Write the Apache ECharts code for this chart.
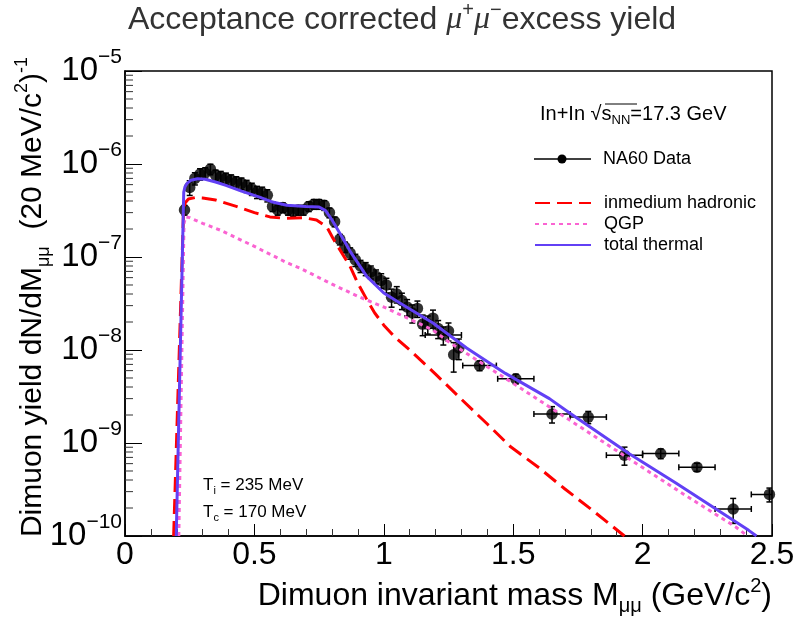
<!DOCTYPE html>
<html><head><meta charset="utf-8">
<script src="https://cdn.jsdelivr.net/npm/echarts@6/dist/echarts.min.js"></script>
<style>html,body{margin:0;padding:0;background:#fff}#c{width:796px;height:618px}</style>
</head><body><div id="c"></div>
<script>
const FONT = '"Liberation Sans", Helvetica, Arial, sans-serif';

// ---- NA60 data ----
const dataX = [0.23,0.25,0.27,0.29,0.31,0.33,0.35,0.37,0.39,0.41,0.43,0.45,0.47,0.49,0.51,0.53,0.55,0.57,0.59,0.61,
  0.63,0.65,0.67,0.69,0.71,0.73,0.75,0.77,0.79,0.81,0.83,0.85,0.87,0.89,0.91,0.93,0.95,0.97,0.99,1.01,
  1.03,1.05,1.07,1.09,1.11,1.13,1.15,1.17,1.19,1.21,1.23,1.25,1.27,1.29,
  1.37,1.51,1.65,1.79,1.93,2.07,2.21,2.35,2.49];
const dataY = [3.2e-7,5.6e-7,7.0e-7,7.8e-7,8.0e-7,8.8e-7,7.6e-7,7.3e-7,7.0e-7,6.7e-7,6.4e-7,6.2e-7,5.8e-7,5.4e-7,5.0e-7,4.9e-7,4.6e-7,3.5e-7,3.2e-7,3.4e-7,
  3.2e-7,3.1e-7,3.2e-7,3.2e-7,3.5e-7,3.7e-7,3.7e-7,3.6e-7,3.0e-7,2.4e-7,1.55e-7,1.28e-7,1.1e-7,9.3e-8,8.0e-8,7.5e-8,6.9e-8,6.2e-8,5.6e-8,5.0e-8,
  3.7e-8,4.0e-8,3.4e-8,2.9e-8,2.5e-8,2.8e-8,1.9e-8,1.9e-8,2.2e-8,1.7e-8,1.45e-8,1.6e-8,8.9e-9,1.05e-8,
  6.8e-9,4.9e-9,2.05e-9,1.9e-9,7.4e-10,7.7e-10,5.5e-10,1.95e-10,2.8e-10];
const dataErrRel = [0.12,0.18,0.15,0.14,0.14,0.13,0.13,0.14,0.14,0.14,0.14,0.14,0.15,0.15,0.15,0.15,0.15,0.12,0.12,0.12,
  0.12,0.12,0.12,0.12,0.12,0.12,0.12,0.12,0.12,0.12,0.13,0.13,0.14,0.15,0.15,0.16,0.16,0.17,0.18,0.18,
  0.22,0.2,0.2,0.2,0.22,0.2,0.25,0.22,0.22,0.22,0.22,0.22,0.35,0.25,
  0.12,0.12,0.2,0.15,0.22,0.12,0.1,0.3,0.17];
const dataXErr = [0,0,0,0,0,0,0,0,0,0,0,0,0,0,0,0,0,0,0,0,
  0,0,0,0,0,0,0,0,0,0,0,0,0,0,0,0,0,0,0,0,
  0,0,0,0,0,0,0,0,0,0,0.07,0,0,0,
  0.065,0.07,0.07,0.07,0.07,0.07,0.07,0.07,0.07];

// ---- model curves ----
const hadX = [0.188,0.226,0.232,0.245,0.27,0.30,0.35,0.43,0.50,0.56,0.62,0.69,0.74,0.78,0.803,0.83,0.869,0.90,0.934,0.965,1.00,1.04,1.10,1.20,1.30,1.40,1.49,1.52,1.60,1.70,1.80,1.93];
const hadY = [1e-10,3.0e-7,3.8e-7,4.2e-7,4.35e-7,4.3e-7,4.1e-7,3.5e-7,3.0e-7,2.7e-7,2.6e-7,2.65e-7,2.5e-7,2.1e-7,1.6e-7,1.2e-7,8e-8,5.2e-8,3.5e-8,2.5e-8,1.85e-8,1.4e-8,1e-8,5.5e-9,2.95e-9,1.6e-9,9.1e-10,7.9e-10,5.4e-10,3.2e-10,1.95e-10,1e-10];
const qgpX = [0.208,0.228,0.235,0.25,0.30,0.367,0.50,0.625,0.676,0.80,0.907,1.00,1.19,1.255,1.51,1.77,2.03,2.16,2.36,2.405];
const qgpY = [1e-10,2.3e-7,2.7e-7,2.65e-7,2.3e-7,1.95e-7,1.3e-7,8.7e-8,7.6e-8,5.1e-8,3.7e-8,2.9e-8,1.64e-8,1.2e-8,4.2e-9,1.42e-9,4.8e-10,2.8e-10,1.25e-10,1e-10];
const totX = [0.198,0.227,0.232,0.24,0.255,0.28,0.31,0.35,0.39,0.45,0.52,0.57,0.625,0.70,0.75,0.775,0.80,0.83,0.87,0.934,1.00,1.062,1.19,1.32,1.47,1.64,1.718,1.95,2.13,2.41,2.44];
const totY = [1e-10,5.0e-7,5.7e-7,6.2e-7,6.7e-7,6.95e-7,6.85e-7,6.4e-7,5.9e-7,5.1e-7,4.4e-7,3.9e-7,3.6e-7,3.5e-7,3.45e-7,3.15e-7,2.5e-7,1.8e-7,1.15e-7,6.2e-8,4.1e-8,3.2e-8,1.95e-8,1.05e-8,5.6e-9,3.0e-9,2.1e-9,7.6e-10,3.7e-10,1.15e-10,1e-10];

// ---- axes ----
const xTickLabels = ['0','0.5','1','1.5','2','2.5'];
const yMinorTicks = [];
[-10,-9,-8,-7,-6].forEach(e => { for (let k = 2; k <= 9; k++) yMinorTicks.push(k * Math.pow(10, e)); });

const pairs = (xs, ys) => xs.map((x, i) => [x, ys[i]]);
const errData = dataX.map((x, i) => [x, dataY[i], dataY[i] * (1 - dataErrRel[i]), dataY[i] * (1 + dataErrRel[i]), dataXErr[i]]);

const chart = echarts.init(document.getElementById('c'), null, {renderer: 'canvas'});
chart.setOption({
  animation: false,
  backgroundColor: '#fff',
  grid: {left: 125, right: 24, top: 71, bottom: 82, show: true, borderColor: '#000', borderWidth: 1.5, outerBoundsMode: 'none', containLabel: false},
  xAxis: {
    type: 'value', min: 0, max: 2.5, interval: 0.5,
    axisLine: {show: true, onZero: false, lineStyle: {color: '#000', width: 1.5}},
    axisTick: {show: true, inside: true, length: 12, lineStyle: {color: '#000', width: 1}},
    minorTick: {show: true, splitNumber: 5, length: 7, lineStyle: {color: '#333', width: 1}},
    splitLine: {show: false},
    axisLabel: {margin: 3, fontSize: 32, fontFamily: FONT, color: '#000',
      formatter: v => xTickLabels[Math.round(v / 0.5)]}
  },
  yAxis: {
    type: 'log', logBase: 10, min: 1e-10, max: 1e-5, splitNumber: 5,
    axisLine: {show: true, lineStyle: {color: '#000', width: 1.5}},
    axisTick: {show: true, inside: true, length: 17, lineStyle: {color: '#000', width: 1}},
    splitLine: {show: false},
    axisLabel: {margin: 3, showMinLabel: true, showMaxLabel: true,
      formatter: v => '{b|10}{e|−' + Math.abs(Math.round(Math.log10(v))) + '}',
      rich: {b: {fontSize: 33, lineHeight: 48, fontFamily: FONT, color: '#000'},
             e: {fontSize: 21, lineHeight: 21, verticalAlign: 'top', fontFamily: FONT, color: '#000'}}}
  },
  legend: {
    orient: 'vertical', left: 534, top: 194, padding: 0,
    itemWidth: 56, itemHeight: 14, itemGap: 3,
    itemStyle: {opacity: 0},
    textStyle: {fontSize: 18, fontFamily: FONT, color: '#000', padding: [0, 0, 0, 8]},
    data: ['inmedium hadronic', 'QGP', 'total thermal']
  },
  series: [
    {
      type: 'custom', name: 'errors', z: 2, clip: true, silent: true,
      data: errData,
      renderItem: (params, api) => {
        const x = api.value(0), y = api.value(1), lo = api.value(2), hi = api.value(3), xe = api.value(4);
        const c = api.coord([x, y]), t = api.coord([x, hi]), b = api.coord([x, lo]);
        const st = {stroke: '#000', lineWidth: 1.5};
        const ch = [
          {type: 'line', shape: {x1: c[0], y1: t[1], x2: c[0], y2: b[1]}, style: st},
          {type: 'line', shape: {x1: c[0] - 3, y1: t[1], x2: c[0] + 3, y2: t[1]}, style: st},
          {type: 'line', shape: {x1: c[0] - 3, y1: b[1], x2: c[0] + 3, y2: b[1]}, style: st}
        ];
        if (xe > 0) {
          const l = api.coord([x - xe, y]), r = api.coord([x + xe, y]);
          ch.push({type: 'line', shape: {x1: l[0], y1: c[1], x2: r[0], y2: c[1]}, style: st});
          ch.push({type: 'line', shape: {x1: l[0], y1: c[1] - 3, x2: l[0], y2: c[1] + 3}, style: st});
          ch.push({type: 'line', shape: {x1: r[0], y1: c[1] - 3, x2: r[0], y2: c[1] + 3}, style: st});
        }
        return {type: 'group', children: ch};
      }
    },
    {type: 'scatter', name: 'NA60 Data', z: 3, symbol: 'circle', symbolSize: 11.5,
     itemStyle: {color: '#000'}, data: pairs(dataX, dataY), silent: true},
    {type: 'line', name: 'inmedium hadronic', z: 4, symbol: 'none', data: pairs(hadX, hadY),
     lineStyle: {color: '#ff0000', width: 3, type: [15, 7]}, itemStyle: {color: '#ff0000'}},
    {type: 'line', name: 'QGP', z: 4, symbol: 'none', data: pairs(qgpX, qgpY),
     lineStyle: {color: '#fa64d2', width: 3, type: [4, 4]}, itemStyle: {color: '#fa64d2'}},
    {type: 'line', name: 'total thermal', z: 5, symbol: 'none', data: pairs(totX, totY),
     lineStyle: {color: '#6240f5', width: 3}, itemStyle: {color: '#6240f5'}},
    {
      type: 'custom', name: 'yminor', z: 6, clip: false, silent: true,
      data: yMinorTicks.map(v => [0, v]),
      renderItem: (params, api) => {
        const p = api.coord([0, api.value(1)]);
        return {type: 'line', shape: {x1: p[0], y1: p[1], x2: p[0] + 8, y2: p[1]}, style: {stroke: '#333', lineWidth: 1}};
      }
    }
  ],
  graphic: [
    {type: 'text', x: 402, y: 20, style: {
      text: '{t|Acceptance corrected }{m|μ}{p|+}{m|μ}{p|−}{t|excess yield}',
      align: 'center', verticalAlign: 'middle',
      rich: {t: {fontSize: 32, fontFamily: FONT, fill: '#333', lineHeight: 40},
             m: {fontSize: 32, fontFamily: '"Liberation Serif", serif', fontStyle: 'italic', fill: '#333', lineHeight: 40},
             p: {fontSize: 20, fontFamily: FONT, fill: '#333', lineHeight: 20, verticalAlign: 'top'}}}},
    {type: 'text', x: 33, y: 297, rotation: Math.PI / 2, style: {
      text: '{a|Dimuon yield dN/dM}{s|μμ}{a|  (20 MeV/c}{p|2}{a|)}{p|-1}',
      align: 'center', verticalAlign: 'middle',
      rich: {a: {fontSize: 30, fontFamily: FONT, fill: '#000', lineHeight: 40},
             s: {fontSize: 18, fontFamily: FONT, fill: '#000', lineHeight: 18, verticalAlign: 'bottom'},
             p: {fontSize: 18, fontFamily: FONT, fill: '#000', lineHeight: 18, verticalAlign: 'top'}}}},
    {type: 'text', x: 772, y: 596, style: {
      text: '{a|Dimuon invariant mass M}{s|μμ}{a| (GeV/c}{p|2}{a|)}',
      align: 'right', verticalAlign: 'middle',
      rich: {a: {fontSize: 32, fontFamily: FONT, fill: '#000', lineHeight: 40},
             s: {fontSize: 20, fontFamily: FONT, fill: '#000', lineHeight: 20, verticalAlign: 'bottom'},
             p: {fontSize: 20, fontFamily: FONT, fill: '#000', lineHeight: 20, verticalAlign: 'top'}}}},
    {type: 'text', x: 540, y: 114, style: {
      text: '{a|In+In √s}{s|NN}{a|=17.3 GeV}',
      align: 'left', verticalAlign: 'middle',
      rich: {a: {fontSize: 20, fontFamily: FONT, fill: '#000', lineHeight: 26},
             s: {fontSize: 13, fontFamily: FONT, fill: '#000', lineHeight: 13, verticalAlign: 'bottom'}}}},
    {type: 'line', shape: {x1: 605, y1: 104, x2: 637, y2: 104}, style: {stroke: '#000', lineWidth: 1}},
    {type: 'line', shape: {x1: 534, y1: 159, x2: 591, y2: 159}, style: {stroke: '#000', lineWidth: 1.5}},
    {type: 'circle', shape: {cx: 562, cy: 159, r: 4.5}, style: {fill: '#000'}},
    {type: 'text', x: 603, y: 159, style: {text: 'NA60 Data', fontSize: 18, fontFamily: FONT, fill: '#000', align: 'left', verticalAlign: 'middle'}},
    {type: 'text', x: 203, y: 485, style: {
      text: '{a|T}{s|i}{a| = 235 MeV}', align: 'left', verticalAlign: 'middle',
      rich: {a: {fontSize: 17, fontFamily: FONT, fill: '#000', lineHeight: 22},
             s: {fontSize: 11, fontFamily: FONT, fill: '#000', lineHeight: 11, verticalAlign: 'bottom'}}}},
    {type: 'text', x: 203, y: 512, style: {
      text: '{a|T}{s|c}{a| = 170 MeV}', align: 'left', verticalAlign: 'middle',
      rich: {a: {fontSize: 17, fontFamily: FONT, fill: '#000', lineHeight: 22},
             s: {fontSize: 11, fontFamily: FONT, fill: '#000', lineHeight: 11, verticalAlign: 'bottom'}}}}
  ]
});
</script></body></html>
